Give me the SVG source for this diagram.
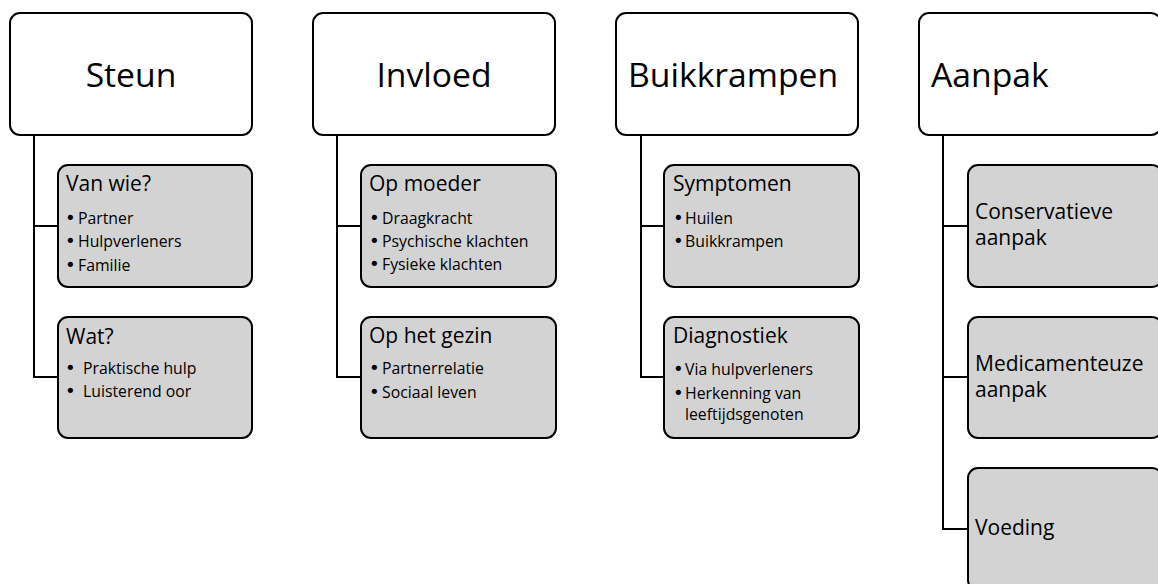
<svg xmlns="http://www.w3.org/2000/svg" width="1158" height="584" viewBox="0 0 1158 584">
<style>
.top{fill:#fff;stroke:#000;stroke-width:2}
.sub{fill:#d3d3d3;stroke:#000;stroke-width:2}
.con{fill:none;stroke:#000;stroke-width:2}
text{font-family:"Open Sans","Noto Sans",sans-serif;fill:#000}
.h1{font-size:33.7px}
.h2{font-size:21px}
.b{font-size:15.8px}
.bl{font-family:"DejaVu Sans",sans-serif;font-size:18px}
</style>
<rect width="1158" height="584" fill="#fff"/>
<g id="connectors">
<path class="con" d="M34 135V377H58M34 226H58"/>
<path class="con" d="M337 135V377H361M337 226H361"/>
<path class="con" d="M641 135V377H664M641 226H664"/>
<path class="con" d="M943 135V529H968M943 226H968M943 377H968"/>
</g>
<g id="steun"><rect class="top" x="10" y="13" width="242" height="122" rx="10"/><text class="h1" x="131" y="87" text-anchor="middle">Steun</text></g>
<g id="vanwie"><rect class="sub" x="58" y="165" width="194" height="122" rx="10"/><text class="h2" x="66" y="191">Van wie?</text>
<text class="b" x="65" y="224"><tspan class="bl">•</tspan><tspan x="78">Partner</tspan></text>
<text class="b" x="65" y="247"><tspan class="bl">•</tspan><tspan x="78">Hulpverleners</tspan></text>
<text class="b" x="65" y="271"><tspan class="bl">•</tspan><tspan x="78">Familie</tspan></text></g>
<g id="wat"><rect class="sub" x="58" y="317" width="194" height="121" rx="10"/><text class="h2" x="66" y="344">Wat?</text>
<text class="b" x="65" y="374"><tspan class="bl">•</tspan><tspan x="83">Praktische hulp</tspan></text>
<text class="b" x="65" y="397"><tspan class="bl">•</tspan><tspan x="83">Luisterend oor</tspan></text></g>
<g id="invloed"><rect class="top" x="313" y="13" width="242" height="122" rx="10"/><text class="h1" x="434" y="87" text-anchor="middle">Invloed</text></g>
<g id="opmoeder"><rect class="sub" x="361" y="165" width="195" height="122" rx="10"/><text class="h2" x="369" y="191">Op moeder</text>
<text class="b" x="369" y="224"><tspan class="bl">•</tspan><tspan x="382">Draagkracht</tspan></text>
<text class="b" x="369" y="247"><tspan class="bl">•</tspan><tspan x="382">Psychische klachten</tspan></text>
<text class="b" x="369" y="270"><tspan class="bl">•</tspan><tspan x="382">Fysieke klachten</tspan></text></g>
<g id="ophetgezin"><rect class="sub" x="361" y="317" width="195" height="121" rx="10"/><text class="h2" x="369" y="343">Op het gezin</text>
<text class="b" x="369" y="374"><tspan class="bl">•</tspan><tspan x="382">Partnerrelatie</tspan></text>
<text class="b" x="369" y="398"><tspan class="bl">•</tspan><tspan x="382">Sociaal leven</tspan></text></g>
<g id="buikkrampen"><rect class="top" x="616" y="13" width="242" height="122" rx="10"/><text class="h1" x="628" y="87">Buikkrampen</text></g>
<g id="symptomen"><rect class="sub" x="664" y="165" width="195" height="122" rx="10"/><text class="h2" x="673" y="191">Symptomen</text>
<text class="b" x="673" y="224"><tspan class="bl">•</tspan><tspan x="685">Huilen</tspan></text>
<text class="b" x="673" y="247"><tspan class="bl">•</tspan><tspan x="685">Buikkrampen</tspan></text></g>
<g id="diagnostiek"><rect class="sub" x="664" y="317" width="195" height="121" rx="10"/><text class="h2" x="673" y="343">Diagnostiek</text>
<text class="b" x="673" y="375"><tspan class="bl">•</tspan><tspan x="685">Via hulpverleners</tspan></text>
<text class="b" x="673" y="399"><tspan class="bl">•</tspan><tspan x="685">Herkenning van</tspan></text>
<text class="b" x="685" y="420">leeftijdsgenoten</text></g>
<g id="aanpak"><rect class="top" x="919" y="13" width="242" height="122" rx="10"/><text class="h1" x="931" y="87">Aanpak</text></g>
<g id="conservatieve"><rect class="sub" x="968" y="165" width="194" height="122" rx="10"/><text class="h2" x="975" y="219">Conservatieve</text><text class="h2" x="975" y="245">aanpak</text></g>
<g id="medicamenteuze"><rect class="sub" x="968" y="317" width="194" height="121" rx="10"/><text class="h2" x="975" y="371">Medicamenteuze</text><text class="h2" x="975" y="397">aanpak</text></g>
<g id="voeding"><rect class="sub" x="968" y="468" width="194" height="122" rx="10"/><text class="h2" x="975" y="535">Voeding</text></g>
</svg>
